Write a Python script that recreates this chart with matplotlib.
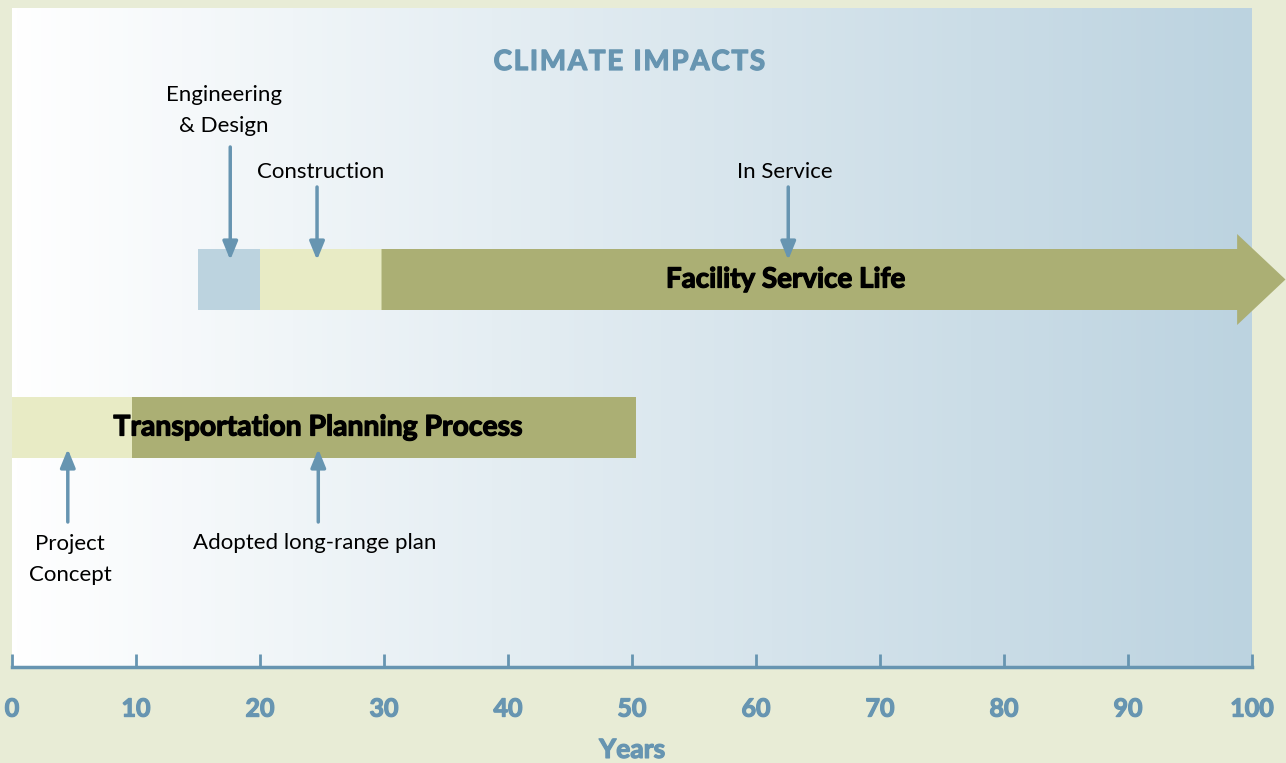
import numpy as np
import matplotlib.pyplot as plt
import matplotlib.patheffects as pe
from matplotlib.colors import LinearSegmentedColormap
from matplotlib.patches import FancyArrow

# years on the x axis
ticks = [0, 10, 20, 30, 40, 50, 60, 70, 80, 90, 100]

# facility service life segments (start, end in years)
design = (15, 20)
construction = (20, 29.8)
service = (29.8, 102.7)

# transportation planning segments
concept = (0, 9.7)
plan = (9.7, 50.3)

# callouts: (label, arrow x in years, label x in years)
top_calls = [('Engineering\n& Design', 17.6, 17.1), ('Construction', 24.6, 24.9),
             ('In Service', 62.6, 62.3)]
bottom_calls = [('Project\nConcept', 4.5, 4.7), ('Adopted long-range plan', 24.7, 24.4)]

BG = '#e8ecd6'
BLUE = '#6795b1'
OLIVE = '#abaf74'
CREAM = '#e8ebc5'
LIGHTBLUE = '#bcd3df'

plt.rcParams['font.family'] = ['Lato', 'DejaVu Sans']


def heavy(c):
    return [pe.withStroke(linewidth=0.9, foreground=c)]


fig = plt.figure(figsize=(12.86, 7.63), dpi=100, facecolor=BG)
W, H = 1286, 763
ax = fig.add_axes([12 / W, (H - 667) / H, 1240 / W, 659 / H])
ax.set_xlim(0, 100)
ax.set_ylim(667, 8)

# background gradient
cmap = LinearSegmentedColormap.from_list('bg', ['#ffffff', '#bcd3e0'])
ax.imshow(np.linspace(0, 1, 256)[None, :], cmap=cmap, aspect='auto',
          extent=[0, 100, 667, 8], zorder=0)

# rows (pixel-like y units)
fac_y, fac_h = 279.5, 61
plan_y, plan_h = 427.5, 61

ax.barh(fac_y, design[1] - design[0], left=design[0], height=fac_h,
        color=LIGHTBLUE, zorder=2)
ax.barh(fac_y, construction[1] - construction[0], left=construction[0],
        height=fac_h, color=CREAM, zorder=2)
ax.add_patch(FancyArrow(service[0], fac_y, service[1] - service[0], 0,
                        width=fac_h, head_width=91, head_length=3.9,
                        length_includes_head=True, color=OLIVE, lw=0,
                        zorder=2, clip_on=False))
ax.text(62.4, fac_y, 'Facility Service Life', ha='center', va='center',
        fontsize=20, fontweight='bold', zorder=3, path_effects=heavy('black'))

ax.barh(plan_y, concept[1] - concept[0], left=concept[0], height=plan_h,
        color=CREAM, zorder=2)
ax.barh(plan_y, plan[1] - plan[0], left=plan[0], height=plan_h,
        color=OLIVE, zorder=2)
ax.text(24.7, plan_y, 'Transportation Planning Process', ha='center',
        va='center', fontsize=20.4, fontweight='bold', zorder=3,
        path_effects=heavy('black'))

arrow_kw = dict(arrowstyle='-|>,head_length=1.1,head_width=0.45', color=BLUE,
                lw=2.5, shrinkA=0, shrinkB=0)

# top callouts
for label, x, tx in top_calls:
    if '\n' in label:
        ax.annotate('', xy=(x, 260), xytext=(x, 147), arrowprops=arrow_kw, zorder=4)
        ax.text(tx, 110.5, label, ha='center', va='center', fontsize=16,
                linespacing=1.68)
    else:
        ax.annotate('', xy=(x, 260), xytext=(x, 187), arrowprops=arrow_kw, zorder=4)
        ax.text(tx, 172, label, ha='center', va='center', fontsize=16)

# bottom callouts
for label, x, tx in bottom_calls:
    ax.annotate('', xy=(x, 449), xytext=(x, 522), arrowprops=arrow_kw, zorder=4)
    if '\n' in label:
        ax.text(tx, 559.5, label, ha='center', va='center', fontsize=16,
                linespacing=1.68)
    else:
        ax.text(tx, 543, label, ha='center', va='center', fontsize=16)

ax.text(49.8, 62, '\u200a'.join('CLIMATE IMPACTS'), ha='center', va='center',
        fontsize=20, fontweight='bold', color=BLUE, path_effects=heavy(BLUE))

# axis styling
for s in ['top', 'left', 'right']:
    ax.spines[s].set_visible(False)
ax.spines['bottom'].set_color(BLUE)
ax.spines['bottom'].set_linewidth(2.5)
ax.set_yticks([])
ax.set_xticks(ticks)
ax.set_xticklabels([str(t) for t in ticks])
ax.tick_params(axis='x', direction='in', length=9.5, width=2, color=BLUE,
               labelcolor=BLUE, labelsize=18, pad=22)
for lab in ax.get_xticklabels():
    lab.set_fontweight('bold')
    lab.set_path_effects(heavy(BLUE))
ax.set_xlabel('Years', fontsize=19, fontweight='bold', color=BLUE, labelpad=12.5,
              path_effects=heavy(BLUE))

fig.savefig('out.png', dpi=100, facecolor=BG)
